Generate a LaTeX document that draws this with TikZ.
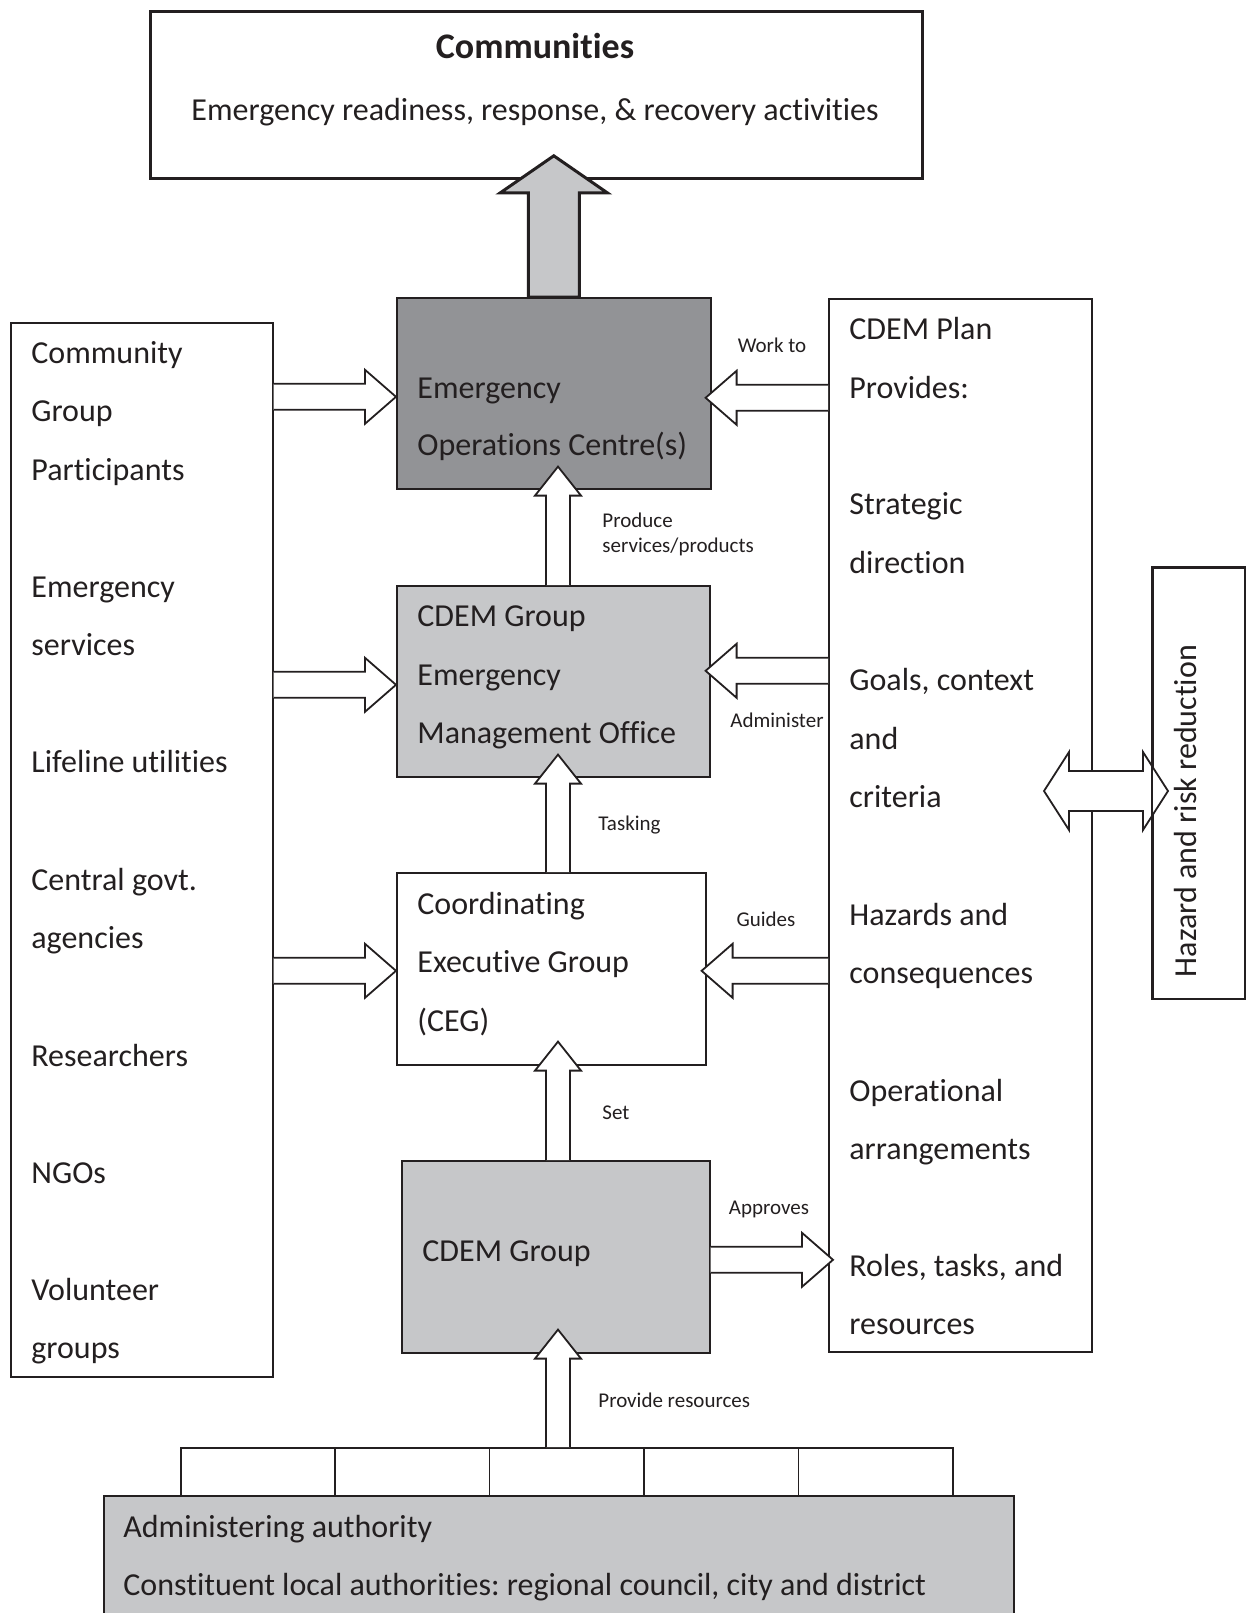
\documentclass[tikz,border=0pt]{standalone}
\usepackage{fontspec}
\setmainfont[RawFeature={-liga;-clig;-dlig;-calt}]{Carlito}
\usetikzlibrary{calc}
\frenchspacing

\definecolor{ink}{HTML}{231F20}
\definecolor{darkfill}{HTML}{929396}
\definecolor{lightfill}{HTML}{C6C7C9}

% horizontal block arrow: start, tip, signed head length
\newcommand\harr[3]{%
  \filldraw[blk] let \p1=(#1), \p2=(#2) in
    (\x1,\y2+6.5pt) -- ({\x2-(#3)},\y2+6.5pt) -- ({\x2-(#3)},\y2+13.5pt) -- (\x2,\y2)
    -- ({\x2-(#3)},\y2-13.5pt) -- ({\x2-(#3)},\y2-6.5pt) -- (\x1,\y2-6.5pt);}
% upward block arrow: start, tip
\newcommand\varr[2]{%
  \filldraw[blk] let \p1=(#1), \p2=(#2) in
    (\x2-6pt,\y1) -- (\x2-6pt,\y2-14.5pt) -- (\x2-11.5pt,\y2-14.5pt) -- (\x2,\y2)
    -- (\x2+11.5pt,\y2-14.5pt) -- (\x2+6pt,\y2-14.5pt) -- (\x2+6pt,\y1);}

\tikzset{
  box/.style={draw=ink, line width=0.8pt, anchor=north west, inner sep=0pt},
  blk/.style={draw=ink, fill=white, line width=0.9pt},
  txt/.style={anchor=base west, inner sep=0pt, text=ink, font=\fontsize{16}{19}\selectfont},
  lab/.style={anchor=base west, inner sep=0pt, text=ink, font=\fontsize{10.5}{12}\selectfont},
}

\begin{document}
\begin{tikzpicture}[x=0.5pt, y=-0.5pt]
\useasboundingbox (0,0) rectangle (1251,1613);
\clip (0,0) rectangle (1251,1613);

% ---- boxes ----
\node[box, line width=1.4pt, minimum width=386pt, minimum height=83.5pt] (comm) at (149,10) {};
\node[box, fill=darkfill, minimum width=157pt, minimum height=95.5pt] (eoc) at (396,297) {};
\node[box, fill=lightfill, minimum width=156.5pt, minimum height=95.5pt] (emo) at (396,585) {};
\node[box, fill=white, minimum width=154.5pt, minimum height=96pt] (ceg) at (396,872) {};
\node[box, fill=lightfill, minimum width=154pt, minimum height=96pt] (grp) at (401,1160) {};
\node[box, minimum width=131pt, minimum height=527pt] (left) at (10,322) {};
\node[box, minimum width=131.5pt, minimum height=526.5pt] (right) at (828,298) {};
\node[box, minimum width=46pt, minimum height=215.5pt] (haz) at (1152,567) {};
\foreach \i in {0,...,4}
  \node[box, minimum width=77.2pt, minimum height=24pt] (cell\i) at ({180+\i*154.4},1447) {};
\node[box, fill=lightfill, minimum width=455pt, minimum height=70pt] (admin) at (103,1495) {};

% ---- main upward arrow to the communities ----
\filldraw[draw=ink, fill=lightfill, line width=1.5pt]
  let \p1=(eoc.north), \p2=([yshift=12pt]eoc.north |- comm.south) in
  (\x2-12.75pt,\y1) -- (\x2-12.75pt,\y2-18.5pt) -- (\x2-26.75pt,\y2-18.5pt) -- (\x2,\y2)
  -- (\x2+26.75pt,\y2-18.5pt) -- (\x2+12.75pt,\y2-18.5pt) -- (\x2+12.75pt,\y1) -- cycle;

% ---- vertical arrows up the chain ----
\coordinate (vx) at (558,0);
\varr{vx |- emo.north}{[yshift=11.5pt]vx |- eoc.south}
\varr{vx |- ceg.north}{[yshift=11.5pt]vx |- emo.south}
\varr{vx |- grp.north}{[yshift=12pt]vx |- ceg.south}
\varr{vx |- cell2.north}{[yshift=12pt]vx |- grp.south}

% ---- arrows from the participants ----
\harr{left.east |- eoc.west}{[yshift=-1.75pt]eoc.west}{15.5pt}
\harr{left.east |- emo.west}{[yshift=-1.75pt]emo.west}{15.5pt}
\harr{left.east |- ceg.west}{[yshift=-1pt]ceg.west}{15.5pt}

% ---- arrows from and to the plan ----
\harr{right.west |- eoc.east}{[xshift=-3pt,yshift=-2.25pt]eoc.east}{-15.5pt}
\harr{right.west |- emo.east}{[xshift=-2.5pt,yshift=5.25pt]emo.east}{-15.5pt}
\harr{right.west |- ceg.east}{[xshift=-2.5pt,yshift=-1pt]ceg.east}{-15.5pt}
\harr{grp.east}{[xshift=2.5pt,yshift=-1.5pt]right.west |- grp.east}{15.5pt}

% ---- two-way arrow between plan and hazard reduction ----
\coordinate (dl) at (1044,791);
\coordinate (dr) at (1168,791);
\filldraw[blk] let \p1=(dl), \p2=(dr) in
  (\x1,\y1) -- (\x1+12.5pt,\y1+19.5pt) -- (\x1+12.5pt,\y1+10pt) -- (\x2-12.5pt,\y1+10pt)
  -- (\x2-12.5pt,\y1+19.5pt) -- (\x2,\y1) -- (\x2-12.5pt,\y1-19.5pt) -- (\x2-12.5pt,\y1-10pt)
  -- (\x1+12.5pt,\y1-10pt) -- (\x1+12.5pt,\y1-19.5pt) -- cycle;
\draw[draw=ink, line width=0.8pt] (haz.north west) rectangle (haz.south east);

% ---- texts ----
\node[anchor=base, inner sep=0pt, text=ink, font=\bfseries\fontsize{18}{22}\selectfont] (ctitle) at (535,58) {Communities};
\node[anchor=base, inner sep=0pt, text=ink, font=\fontsize{16}{19}\selectfont] (csub) at (535,120) {Emergency readiness, response, \& recovery activities};

\foreach \t/\y [count=\i] in {Community/363, Group/421, Participants/480, Emergency/597,
    services/655, Lifeline utilities/772, Central govt./890, agencies/948,
    Researchers/1066, NGOs/1183, Volunteer/1300, groups/1358}
  \node[txt] (l\i) at (31,\y) {\t};

\foreach \t/\y [count=\i] in {CDEM Plan/339, Provides:/398, Strategic/514, direction/573,
    {Goals, context}/690, and/749, criteria/807, Hazards and/925, consequences/983,
    Operational/1101, arrangements/1159, {Roles, tasks, and}/1276, resources/1334}
  \node[txt] (r\i) at (849,\y) {\t};

\node[txt] (eoc1) at (417,398) {Emergency};
\node[txt] (eoc2) at (417,455) {Operations Centre(s)};
\node[txt] (emo1) at (417,626) {CDEM Group};
\node[txt] (emo2) at (417,685) {Emergency};
\node[txt] (emo3) at (417,743) {Management Office};
\node[txt] (ceg1) at (417,914) {Coordinating};
\node[txt] (ceg2) at (417,972) {Executive Group};
\node[txt] (ceg3) at (417,1031) {(CEG)};
\node[txt] (grp1) at (422,1261) {CDEM Group};
\node[txt] (adm1) at (123,1537) {Administering authority};
\node[txt] (adm2) at (123,1595) {Constituent local authorities: regional council, city and district};

\node[anchor=center, rotate=90, inner sep=0pt, text=ink, font=\fontsize{16}{19}\selectfont] (hazt) at (1185,811) {Hazard and risk reduction};

\node[lab, anchor=base] (wk) at (772,352) {Work to};
\node[lab] (pr1) at (602,527) {Produce};
\node[lab] (pr2) at (602,552) {services/products};
\node[lab, anchor=base] (ad) at (777,727) {Administer};
\node[lab] (tk) at (598,830) {Tasking};
\node[lab, anchor=base] (gd) at (766,926) {Guides};
\node[lab] (st) at (602,1119) {Set};
\node[lab, anchor=base] (ap) at (769,1214) {Approves};
\node[lab] (pv) at (598,1407) {Provide resources};
\end{tikzpicture}
\end{document}
